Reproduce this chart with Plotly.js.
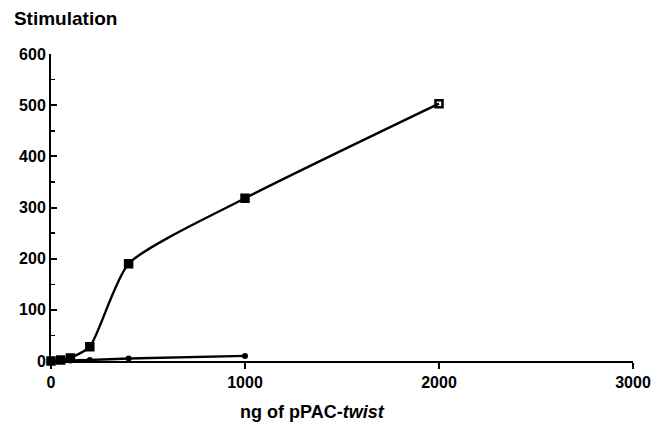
<!DOCTYPE html>
<html><head><meta charset="utf-8">
<script src="https://cdn.plot.ly/plotly-3.0.1.min.js"></script>
<style>html,body{margin:0;padding:0;background:#fff;}#chart{width:664px;height:423px;}</style>
</head><body><div id="chart"></div>
<script>
const doseSquares = [0, 50, 100, 200, 400, 1000, 2000];
const stimSquares = [0, 2, 6, 28, 190, 318, 503];
const doseCircles = [0, 50, 100, 200, 400, 1000];
const stimCircles = [0, 0, 1, 2, 5, 10];
const xTicks = [0, 1000, 2000, 3000];
const yTicks = [0, 100, 200, 300, 400, 500, 600];

const fam = 'Liberation Sans, Arial, sans-serif';
const font = {family: fam, size: 16, color: '#000'};
const sqSymbols = doseSquares.map((d, i) => i === doseSquares.length - 1 ? 'square-open' : 'square');

const traces = [
  {x: doseSquares, y: stimSquares, mode: 'lines+markers', line: {shape: 'spline', smoothing: 0.6, color: '#000', width: 2.4},
   marker: {symbol: sqSymbols, size: 7, color: '#000', line: {color: '#000', width: 2.5}}, cliponaxis: false},
  {x: doseCircles, y: stimCircles, mode: 'lines+markers', line: {shape: 'spline', smoothing: 0.4, color: '#000', width: 2.4},
   marker: {symbol: 'circle', size: 6, color: '#000'}, cliponaxis: false}
];

const layout = {
  width: 664, height: 423,
  margin: {l: 51, r: 31, t: 54, b: 62},
  paper_bgcolor: '#fff', plot_bgcolor: '#fff',
  showlegend: false,
  font: font,
  title: {text: '<b>Stimulation</b>', x: 0.021, xanchor: 'left', y: 0.957, yanchor: 'middle', font: {family: fam, size: 19, color: '#000'}},
  xaxis: {range: [0, 3000], tickvals: xTicks, ticktext: xTicks.map(v => '<b>' + v + '</b>'),
    showline: true, linecolor: '#000', linewidth: 2, ticks: 'outside', ticklen: 6, tickwidth: 2, tickcolor: '#000',
    showgrid: false, zeroline: false, tickfont: font},
  yaxis: {range: [0, 600], tickvals: yTicks, ticktext: yTicks.map(v => '<b>' + v + '</b>'),
    showline: true, linecolor: '#000', linewidth: 2, ticks: 'inside', ticklen: 6, tickwidth: 2, tickcolor: '#000',
    minor: {dtick: 50, ticks: 'inside', ticklen: 4, tickwidth: 1.5, tickcolor: '#000'},
    showgrid: false, zeroline: false, tickfont: font},
  annotations: [
    {text: '<b>ng of pPAC-<i>twist</i></b>', xref: 'paper', yref: 'paper', x: 0.45, y: -0.165, xanchor: 'center', yanchor: 'middle',
     showarrow: false, font: {family: fam, size: 18, color: '#000'}}
  ]
};
Plotly.newPlot('chart', traces, layout, {staticPlot: true});
</script></body></html>
